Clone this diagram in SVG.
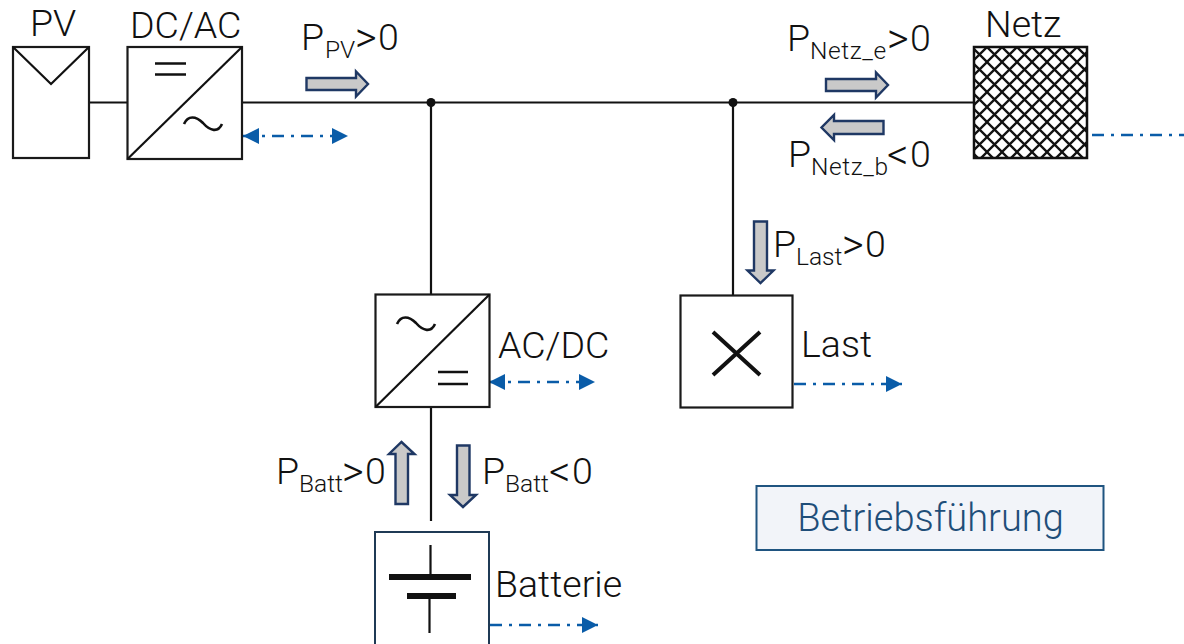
<svg xmlns="http://www.w3.org/2000/svg" width="1184" height="644" viewBox="0 0 1184 644">
<style>
text{font-family:"Roboto","Liberation Sans",sans-serif;font-weight:300;font-size:37.5px;fill:#111}
.sub{font-size:24.5px}
.subn{font-size:24.5px;letter-spacing:.6px}
.gt{font-size:42px}
.box{fill:#fff;stroke:#1a1a1a;stroke-width:2.2}
.ln{fill:none;stroke:#111;stroke-width:2.2}
.th{fill:none;stroke:#111;stroke-width:2.6}
.blk{fill:#c9c9c9;stroke:#1f3864;stroke-width:2.4;stroke-linejoin:miter}
.sig{fill:none;stroke:#0a5ca8;stroke-width:2.4;stroke-dasharray:12 7 3 7}
</style>
<defs>
<pattern id="hatch" width="15" height="15" patternUnits="userSpaceOnUse" x="972" y="47">
<path d="M-5 5L5-5M0 15L15 0M10 20L20 10M-5 10L5 20M0 0L15 15M10-5L20 5" stroke="#111" stroke-width="2.3" fill="none"/>
</pattern>
<marker id="bl" markerWidth="18" markerHeight="16" refX="16" refY="8" orient="auto-start-reverse" markerUnits="userSpaceOnUse"><path d="M0 0L16 8L0 16Z" fill="#0a5ca8"/></marker>
</defs>
<g id="connectors">
<path class="ln" d="M89 102.5H974M431 102.5V294M733 102.5V295M431 407V521"/>
<circle cx="431" cy="102.5" r="4.5" fill="#111"/>
<circle cx="733" cy="102.5" r="4.5" fill="#111"/>
<path class="sig" d="M243 136H348" marker-start="url(#bl)" marker-end="url(#bl)"/>
<path class="sig" d="M489 382H595" marker-start="url(#bl)" marker-end="url(#bl)"/>
<path class="sig" d="M794 384H902" marker-end="url(#bl)"/>
<path class="sig" d="M490 625H598" marker-end="url(#bl)"/>
<path class="sig" d="M1092 135H1184"/>
</g>
<g id="flows">
<path class="blk" d="M306.500 78H356V71.500L368 84L356 96.500V90H306.500Z"/>
<path class="blk" d="M826 79H876V72.500L888 85L876 97.500V91H826Z"/>
<path class="blk" d="M883.500 121H834V115L821.500 127.500L834 140V134H883.500Z"/>
<path class="blk" d="M754 221.500H767V270.500H773.500L760.500 283L747.500 270.500H754Z"/>
<path class="blk" d="M395.500 504H408V454H414.500L401.500 442L389 454H395.500Z"/>
<path class="blk" d="M457 445.500H469.500V495H476L463 507L450 495H457Z"/>
</g>
<g id="pv"><rect class="box" x="13" y="47" width="76" height="111"/><path class="ln" d="M13 47L51 84L89 47"/><text x="30" y="36">PV</text></g>
<g id="dcac"><rect class="box" x="127.500" y="47" width="114.500" height="112"/><path class="ln" d="M127.500 159L242 47"/><path class="th" d="M155 63.500H186M155 74.500H186"/><path class="th" d="M184 124C188 115 196 116 203 123C210 131 218 133 222 124"/><text x="130" y="38">DC/AC</text></g>
<g id="netz"><rect x="974" y="47" width="113" height="111" fill="url(#hatch)" stroke="#111" stroke-width="2.500"/><text x="985" y="37">Netz</text></g>
<g id="acdc"><rect class="box" x="375.500" y="294.500" width="114" height="112.500"/><path class="ln" d="M375.500 407L489.500 294.500"/><path class="th" d="M438 372H468M438 384H468"/><path class="th" d="M397 324C401 315 409 316 416 323C423 331 431 333 435 324"/><text x="498" y="358">AC/DC</text></g>
<g id="last"><rect class="box" x="680.500" y="295.500" width="112" height="112"/><path d="M713 332L760 375M760 332L713 375" stroke="#111" stroke-width="4" fill="none"/><text x="801" y="357">Last</text></g>
<g id="batterie"><rect x="375" y="532" width="114" height="114" fill="#fff" stroke="#1f3a55" stroke-width="2"/><path class="ln" d="M430.500 545V575M429.500 599V633"/><path stroke="#111" stroke-width="6" d="M389 577H471M407 596H456"/><text x="495" y="597">Batterie</text></g>
<g id="betriebsfuehrung"><rect x="756.500" y="486" width="347" height="64" fill="#f2f4f9" stroke="#1f5480" stroke-width="2"/><text x="930.500" y="531" text-anchor="middle" style="fill:#1f4e79;font-size:38px">Betriebsführung</text></g>
<g id="labels">
<text x="301" y="50">P<tspan class="sub" x="325" dy="8">PV</tspan><tspan class="gt" x="355" dy="-6.5">&gt;</tspan><tspan x="378" dy="-1.500">0</tspan></text>
<text x="787" y="51">P<tspan class="subn" x="810" dy="8">Netz_e</tspan><tspan class="gt" x="887" dy="-6.5">&gt;</tspan><tspan x="910" dy="-1.500">0</tspan></text>
<text x="788" y="167">P<tspan class="subn" x="811" dy="8">Netz_b</tspan><tspan class="gt" x="887" dy="-6.5">&lt;</tspan><tspan x="910" dy="-1.500">0</tspan></text>
<text x="773" y="257">P<tspan class="sub" x="796" dy="8">Last</tspan><tspan class="gt" x="842" dy="-6.5">&gt;</tspan><tspan x="865" dy="-1.500">0</tspan></text>
<text x="276" y="484">P<tspan class="sub" x="299" dy="8">Batt</tspan><tspan class="gt" x="342" dy="-6.5">&gt;</tspan><tspan x="365" dy="-1.500">0</tspan></text>
<text x="482" y="484">P<tspan class="sub" x="505" dy="8">Batt</tspan><tspan class="gt" x="549" dy="-6.5">&lt;</tspan><tspan x="572" dy="-1.500">0</tspan></text>
</g>
</svg>
